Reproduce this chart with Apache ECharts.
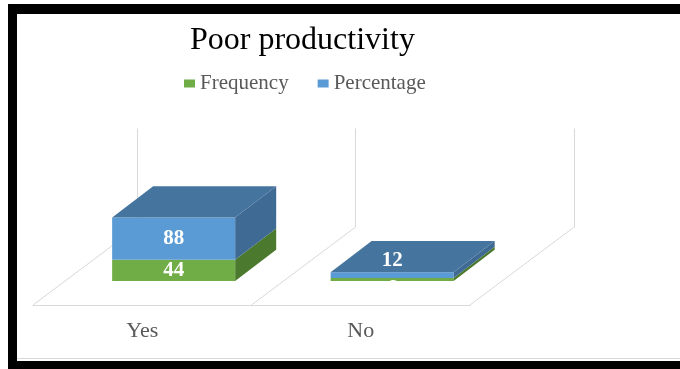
<!DOCTYPE html>
<html>
<head>
<meta charset="utf-8">
<script src="https://cdn.jsdelivr.net/npm/echarts@6/dist/echarts.min.js"></script>
<style>
html,body{margin:0;padding:0;background:#fff;}
#chart{width:680px;height:369px;}
</style>
</head>
<body>
<div id="chart"></div>
<script>
const categories = ['Yes', 'No'];
const frequency = [44, 6];
const percentage = [88, 12];
const seriesNames = ['Frequency', 'Percentage'];
const titleText = 'Poor productivity';

const SERIF = '"Liberation Serif", "Times New Roman", serif';
const colorsFreq = { front: '#70ad47', side: '#4b7a2e', top: '#5a8c3a' };
const colorsPct = { front: '#5b9bd5', side: '#3f6a94', top: '#45749f' };

function makeBarRender(colors, isTopSegment) {
  return function (params, api) {
    const val = api.value(1), base = api.value(2), cat = api.value(0);
    const p0 = api.coord([cat, base]);
    const p1 = api.coord([cat, base + val]);
    const band = api.size([1, 0])[0];
    const barW = band * 0.563;
    const fdx = 31.4, fdy = -24;
    const bdx = 41, bdy = -31.3;
    const L = p0[0] - barW / 2 + fdx, R = L + barW;
    const yB = p0[1] + fdy, yT = p1[1] + fdy;
    const children = [];
    children.push({ type: 'rect', shape: { x: L, y: yT, width: barW, height: yB - yT }, style: { fill: colors.front } });
    children.push({ type: 'polygon', shape: { points: [[R, yB], [R + bdx, yB + bdy], [R + bdx, yT + bdy], [R, yT]] }, style: { fill: colors.side } });
    if (isTopSegment) {
      children.push({ type: 'polygon', shape: { points: [[L, yT], [R, yT], [R + bdx, yT + bdy], [L + bdx, yT + bdy]] }, style: { fill: colors.top } });
    }
    const h = yB - yT;
    let ty, va;
    if (h >= 16) { ty = (yB + yT) / 2; va = 'middle'; }
    else if (isTopSegment) { ty = yT - 1; va = 'bottom'; }
    else { ty = yT; va = 'top'; }
    children.push({ type: 'text', z2: 10, style: { text: String(val), x: (L + R) / 2, y: ty, fill: '#ffffff', fontFamily: SERIF, fontSize: 21, fontWeight: 'bold', align: 'center', verticalAlign: va } });
    return { type: 'group', children: children };
  };
}

function floorRender(params, api) {
  const cs = params.coordSys;
  const n = categories.length;
  const band = cs.width / n;
  const yF = cs.y + cs.height;
  const D = [103.5, -77.5];
  const wallTop = cs.y + D[1];
  const children = [];
  const st = { stroke: '#d9d9d9', lineWidth: 1, fill: null };
  for (let i = 0; i <= n; i++) {
    const bx = cs.x + i * band;
    children.push({ type: 'line', shape: { x1: bx, y1: yF, x2: bx + D[0], y2: yF + D[1] }, style: st });
    const vx = Math.round(bx + D[0]) + 0.5;
    children.push({ type: 'line', shape: { x1: vx, y1: yF + D[1], x2: vx, y2: wallTop }, style: st });
  }
  return { type: 'group', children: children };
}

const freqData = categories.map((c, i) => [i, frequency[i], 0]);
const pctData = categories.map((c, i) => [i, percentage[i], frequency[i]]);

const chart = echarts.init(document.getElementById('chart'), null, { renderer: 'canvas' });
chart.setOption({
  backgroundColor: '#ffffff',
  animation: false,
  title: {
    text: titleText, left: 190, top: 25, padding: 0,
    textStyle: { fontFamily: SERIF, fontSize: 32, fontWeight: 'normal', color: '#000000' }
  },
  legend: {
    left: 184, top: 73, padding: 0, itemWidth: 11, itemHeight: 8, itemGap: 29, icon: 'rect',
    data: seriesNames,
    textStyle: { fontFamily: SERIF, fontSize: 21, color: '#595959' }
  },
  grid: { left: 33, right: 210, top: 206, bottom: 64 },
  xAxis: {
    type: 'category', data: categories, boundaryGap: true,
    axisLine: { show: true, lineStyle: { color: '#d9d9d9', width: 1 } },
    axisTick: { show: false },
    splitLine: { show: false },
    axisLabel: { margin: 15, fontFamily: SERIF, fontSize: 22, color: '#595959' }
  },
  yAxis: { type: 'value', min: 0, max: 206, show: false, splitLine: { show: false } },
  series: [
    { type: 'custom', name: 'floor', z: 1, data: [[0, 0, 0]], renderItem: floorRender, silent: true },
    { type: 'custom', name: seriesNames[0], z: 2, data: freqData, itemStyle: { color: colorsFreq.front }, renderItem: makeBarRender(colorsFreq, false) },
    { type: 'custom', name: seriesNames[1], z: 3, data: pctData, itemStyle: { color: colorsPct.front }, renderItem: makeBarRender(colorsPct, true) }
  ],
  graphic: [
    { type: 'line', z: 100, shape: { x1: 17, y1: 358.5, x2: 680, y2: 358.5 }, style: { stroke: '#d9d9d9', lineWidth: 1 } },
    { type: 'rect', z: 100, shape: { x: 8, y: 4, width: 9, height: 365 }, style: { fill: '#000' } },
    { type: 'rect', z: 100, shape: { x: 8, y: 4, width: 672, height: 10 }, style: { fill: '#000' } },
    { type: 'rect', z: 100, shape: { x: 8, y: 361, width: 672, height: 8 }, style: { fill: '#000' } }
  ]
});
</script>
</body>
</html>
